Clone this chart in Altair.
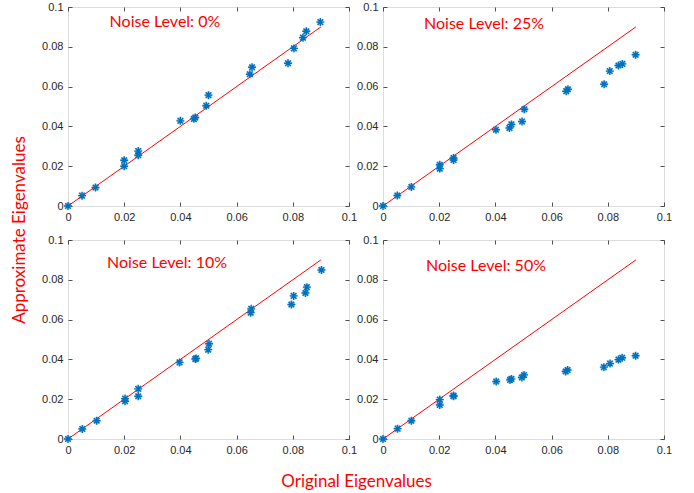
import altair as alt
import pandas as pd

# Original eigenvalues (x) and approximate eigenvalues (y) per noise level
x_0 = [0, 0.005, 0.0098, 0.020, 0.020, 0.025, 0.025, 0.040, 0.0448, 0.0453, 0.0492, 0.050, 0.0647, 0.0655, 0.0783, 0.0804, 0.0836, 0.0848, 0.0898]
y_0 = [0, 0.0052, 0.0093, 0.023, 0.020, 0.0276, 0.0255, 0.0428, 0.0438, 0.0445, 0.0504, 0.0557, 0.0662, 0.0697, 0.0717, 0.0792, 0.0846, 0.0878, 0.0924]

x_25 = [0, 0.0051, 0.0101, 0.0202, 0.0202, 0.0251, 0.0251, 0.0402, 0.045, 0.0457, 0.0495, 0.0503, 0.0652, 0.0658, 0.0787, 0.0807, 0.0838, 0.0852, 0.0899]
y_25 = [0, 0.0053, 0.0096, 0.0207, 0.0188, 0.0241, 0.0231, 0.0383, 0.0392, 0.041, 0.0425, 0.0486, 0.0577, 0.0587, 0.0612, 0.0678, 0.0706, 0.0714, 0.076]

x_10 = [0, 0.0051, 0.0102, 0.0203, 0.0203, 0.025, 0.025, 0.0397, 0.0453, 0.0456, 0.0499, 0.0502, 0.065, 0.0652, 0.0795, 0.0803, 0.0845, 0.085, 0.0902]
y_10 = [0, 0.005, 0.0092, 0.0203, 0.019, 0.0252, 0.0215, 0.0385, 0.0402, 0.0405, 0.0449, 0.0479, 0.0635, 0.0654, 0.0676, 0.0719, 0.0734, 0.0763, 0.0849]

x_50 = [0, 0.0052, 0.0101, 0.0202, 0.0202, 0.0251, 0.0251, 0.0403, 0.0452, 0.0457, 0.0494, 0.0502, 0.065, 0.0657, 0.0786, 0.0808, 0.0838, 0.0851, 0.0899]
y_50 = [0, 0.0052, 0.0092, 0.0198, 0.0171, 0.0218, 0.0215, 0.0289, 0.0297, 0.0302, 0.0309, 0.0322, 0.0339, 0.0347, 0.0361, 0.0379, 0.0399, 0.0408, 0.0418]

ref_x = [0, 0.09]
ref_y = [0, 0.09]

labels = ["Noise Level: 0%", "Noise Level: 25%", "Noise Level: 10%", "Noise Level: 50%"]
label_pos = [(0.0148, 0.0927), (0.0146, 0.0917), (0.0139, 0.0882), (0.0153, 0.0871)]

tick_vals = [0, 0.02, 0.04, 0.06, 0.08, 0.1]

ASTERISK = "M-1,0L1,0M0,-1L0,1M-0.7,-0.7L0.7,0.7M-0.7,0.7L0.7,-0.7"
BLUE = "#0072BD"
W, H = 281, 199

scale = alt.Scale(domain=[0, 0.1], nice=False, zero=False)


def lab_axis(orient):
    return alt.Axis(orient=orient, values=tick_vals, format="~g", title=None, tickSize=0,
                    domain=False, grid=False, labelFont="Liberation Sans", labelFontSize=11,
                    labelColor="#262626", labelPadding=5, labelFlush=False, labelOverlap=False)


def tick_axis(orient):
    return alt.Axis(orient=orient, values=tick_vals, title=None, labels=False, tickSize=4,
                    offset=-4, domain=False, grid=False, tickColor="#262626", tickWidth=0.8)


def panel(xs, ys, label, pos):
    df = pd.DataFrame({"x": xs, "y": ys})
    ref = pd.DataFrame({"x": ref_x, "y": ref_y})
    txt = pd.DataFrame({"x": [pos[0]], "y": [pos[1]], "t": [label]})
    halo = alt.Chart(df).mark_circle(size=55, color="#a9cfee", opacity=0.8).encode(
        x=alt.X("x:Q", scale=scale, axis=lab_axis("bottom")),
        y=alt.Y("y:Q", scale=scale, axis=lab_axis("left")),
    )
    line = alt.Chart(ref).mark_line(color="#ff0000", strokeWidth=1).encode(
        x=alt.X("x:Q", scale=scale, axis=tick_axis("bottom")),
        y=alt.Y("y:Q", scale=scale, axis=tick_axis("left")),
    )
    stars = alt.Chart(df).mark_point(shape=ASTERISK, size=64, filled=False, strokeWidth=1.4,
                                     color=BLUE, opacity=1).encode(
        x=alt.X("x:Q", scale=scale, axis=tick_axis("top")),
        y=alt.Y("y:Q", scale=scale, axis=tick_axis("right")),
    )
    text = alt.Chart(txt).mark_text(align="left", baseline="middle", font="Lato", fontSize=16,
                                    color="#ff0000").encode(
        x=alt.X("x:Q", scale=scale, axis=None),
        y=alt.Y("y:Q", scale=scale, axis=None),
        text="t:N",
    )
    return alt.layer(halo, line, stars, text).resolve_axis(x="independent", y="independent").properties(
        width=W, height=H)


p1 = panel(x_0, y_0, labels[0], label_pos[0])
p2 = panel(x_25, y_25, labels[1], label_pos[1])
p3 = panel(x_10, y_10, labels[2], label_pos[2])
p4 = panel(x_50, y_50, labels[3], label_pos[3])

grid = alt.concat(p1, p2, p3, p4, columns=2, spacing=34, bounds="flush",
                  title=alt.TitleParams("Original Eigenvalues", orient="bottom", anchor="middle",
                                        font="Lato", fontSize=17, fontWeight="normal",
                                        color="#ff0000", offset=18))
chart = alt.hconcat(grid, title=alt.TitleParams("Approximate Eigenvalues", orient="left",
                                                anchor="middle", font="Lato", fontSize=17,
                                                fontWeight="normal", color="#ff0000", offset=12,
                                                dx=15)
                    ).properties(padding={"left": 11, "top": 0, "right": 5, "bottom": 5}
                    ).configure_view(stroke="#262626", strokeWidth=0.8).configure(background="white")

chart.save("out.html", embed_options={"renderer": "svg", "actions": False})
